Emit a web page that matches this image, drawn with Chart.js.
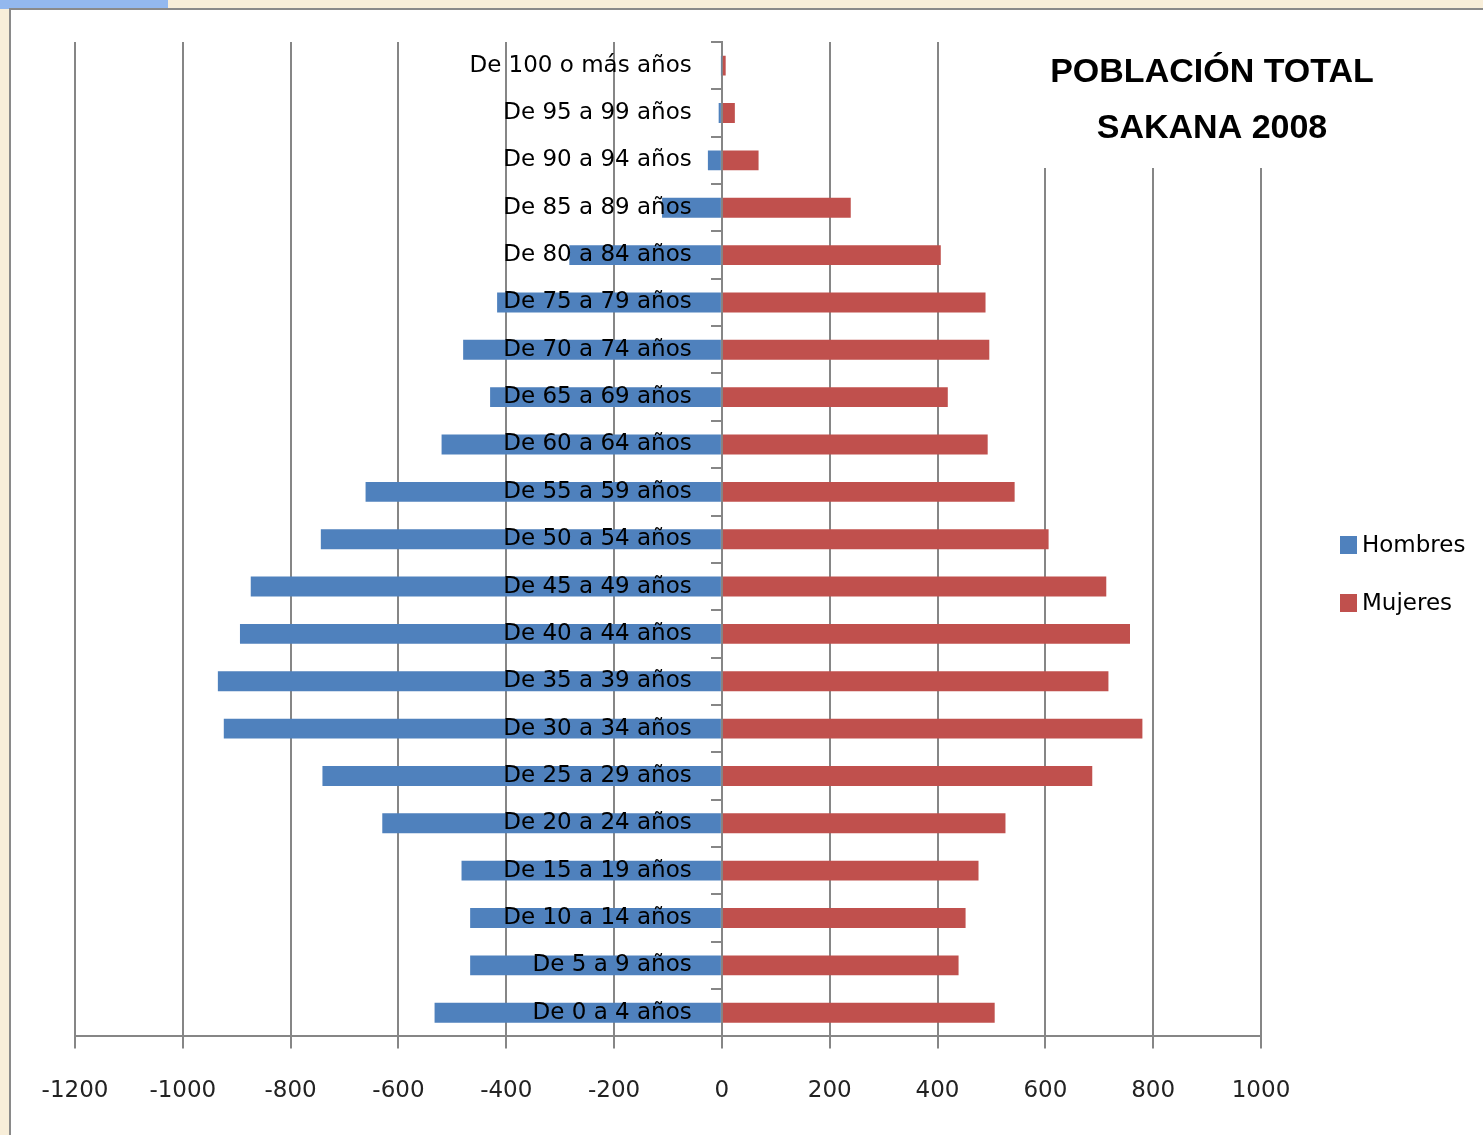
<!DOCTYPE html>
<html><head><meta charset="utf-8">
<script src="https://cdn.jsdelivr.net/npm/chart.js@4.4.1/dist/chart.umd.min.js"></script>
<style>
html,body{margin:0;padding:0;width:1483px;height:1135px;overflow:hidden;background:#f8eed9;}
#strip{position:absolute;left:0;top:0;width:168px;height:9px;background:#93b8ee;}
#frame{position:absolute;left:9px;top:8px;width:1480px;height:1140px;background:#fff;border-left:2px solid #8a8a8a;border-top:2px solid #8a8a8a;}
#c{position:absolute;left:0;top:0;width:1483px;height:1135px;}
</style></head><body>
<div id="strip"></div><div id="frame"></div>
<canvas id="c" width="1483" height="1135"></canvas>
<script>
const categories = ["De 0 a 4 años","De 5 a 9 años","De 10 a 14 años","De 15 a 19 años","De 20 a 24 años","De 25 a 29 años","De 30 a 34 años","De 35 a 39 años","De 40 a 44 años","De 45 a 49 años","De 50 a 54 años","De 55 a 59 años","De 60 a 64 años","De 65 a 69 años","De 70 a 74 años","De 75 a 79 años","De 80 a 84 años","De 85 a 89 años","De 90 a 94 años","De 95 a 99 años","De 100 o más años"];
const hombres = [-533,-467,-467,-483,-630,-741,-924,-935,-894,-874,-744,-661,-520,-430,-480,-417,-283,-111,-26,-6,-1];
const mujeres = [506,439,452,476,526,687,780,717,757,713,606,543,493,419,496,489,406,239,68,24,7];
const seriesNames = ["Hombres","Mujeres"];
const seriesColors = ["#4f81bd","#c0504d"];
const titleLines = ["POBLACIÓN TOTAL","SAKANA 2008"];
const xMin = -1200, xMax = 1000, xStep = 200;
const labelAnchor = -56; // where the category labels end (in x units), just left of the tick marks

const overlay = {
  id:'overlay',
  afterDraw(chart){
    const {ctx, chartArea} = chart;
    ctx.save();
    ctx.fillStyle = '#fff';
    ctx.fillRect(chartArea.right - 225, chartArea.top - 2, 350, 128);
    ctx.fillStyle = '#000';
    ctx.font = 'bold 34px "Liberation Sans", Arial, sans-serif';
    ctx.textAlign = 'center';
    ctx.textBaseline = 'middle';
    const cx = chartArea.right - 49;
    ctx.fillText(titleLines[0], cx, chartArea.top + 31);
    ctx.fillText(titleLines[1], cx, chartArea.top + 87);
    ctx.textAlign = 'left';
    ctx.font = '23px "DejaVu Sans", sans-serif';
    const lx = chartArea.right + 79;
    chart.data.datasets.forEach((ds, i) => {
      const y = 545 + i * 58;
      ctx.fillStyle = ds.backgroundColor;
      ctx.fillRect(lx, y - 9, 17, 18);
      ctx.fillStyle = '#000';
      ctx.fillText(ds.label, lx + 22, y + 1);
    });
    ctx.restore();
  }
};

new Chart(document.getElementById('c'), {
  type: 'bar',
  data: {
    labels: categories,
    datasets: [
      {label: seriesNames[0], data: hombres, backgroundColor: seriesColors[0], barPercentage: 0.42, categoryPercentage: 1, yAxisID: 'y'},
      {label: seriesNames[1], data: mujeres, backgroundColor: seriesColors[1], barPercentage: 0.42, categoryPercentage: 1, yAxisID: 'y'}
    ]
  },
  options: {
    indexAxis: 'y',
    responsive: false,
    animation: false,
    devicePixelRatio: 1,
    layout: {padding: {left: 75, right: 222, top: 42, bottom: 1}},
    plugins: {legend: {display: false}, tooltip: {enabled: false}, title: {display: false}},
    scales: {
      x: {
        type: 'linear',
        stacked: true,
        min: xMin, max: xMax,
        ticks: {stepSize: xStep, padding: 29, color: '#222', font: {family: '"DejaVu Sans", sans-serif', size: 23}, callback: v => String(v)},
        grid: {color: '#868686', lineWidth: 2, tickLength: 12, drawTicks: true},
        border: {display: true, color: '#868686', width: 2}
      },
      y: {
        type: 'category',
        stacked: true,
        reverse: true,
        position: {x: 0},
        offset: true,
        ticks: {display: false},
        grid: {offset: true, drawOnChartArea: false, drawTicks: true, tickLength: 10, color: '#868686', lineWidth: 2},
        border: {display: true, color: '#868686', width: 2}
      },
      yLabels: {
        type: 'category',
        axis: 'y',
        reverse: true,
        position: {x: labelAnchor},
        offset: true,
        ticks: {z: 1, padding: 0, color: '#000', font: {family: '"DejaVu Sans", sans-serif', size: 23}, autoSkip: false},
        grid: {display: false, drawTicks: false},
        border: {display: false}
      }
    }
  },
  plugins: [overlay]
});
</script>
</body></html>
